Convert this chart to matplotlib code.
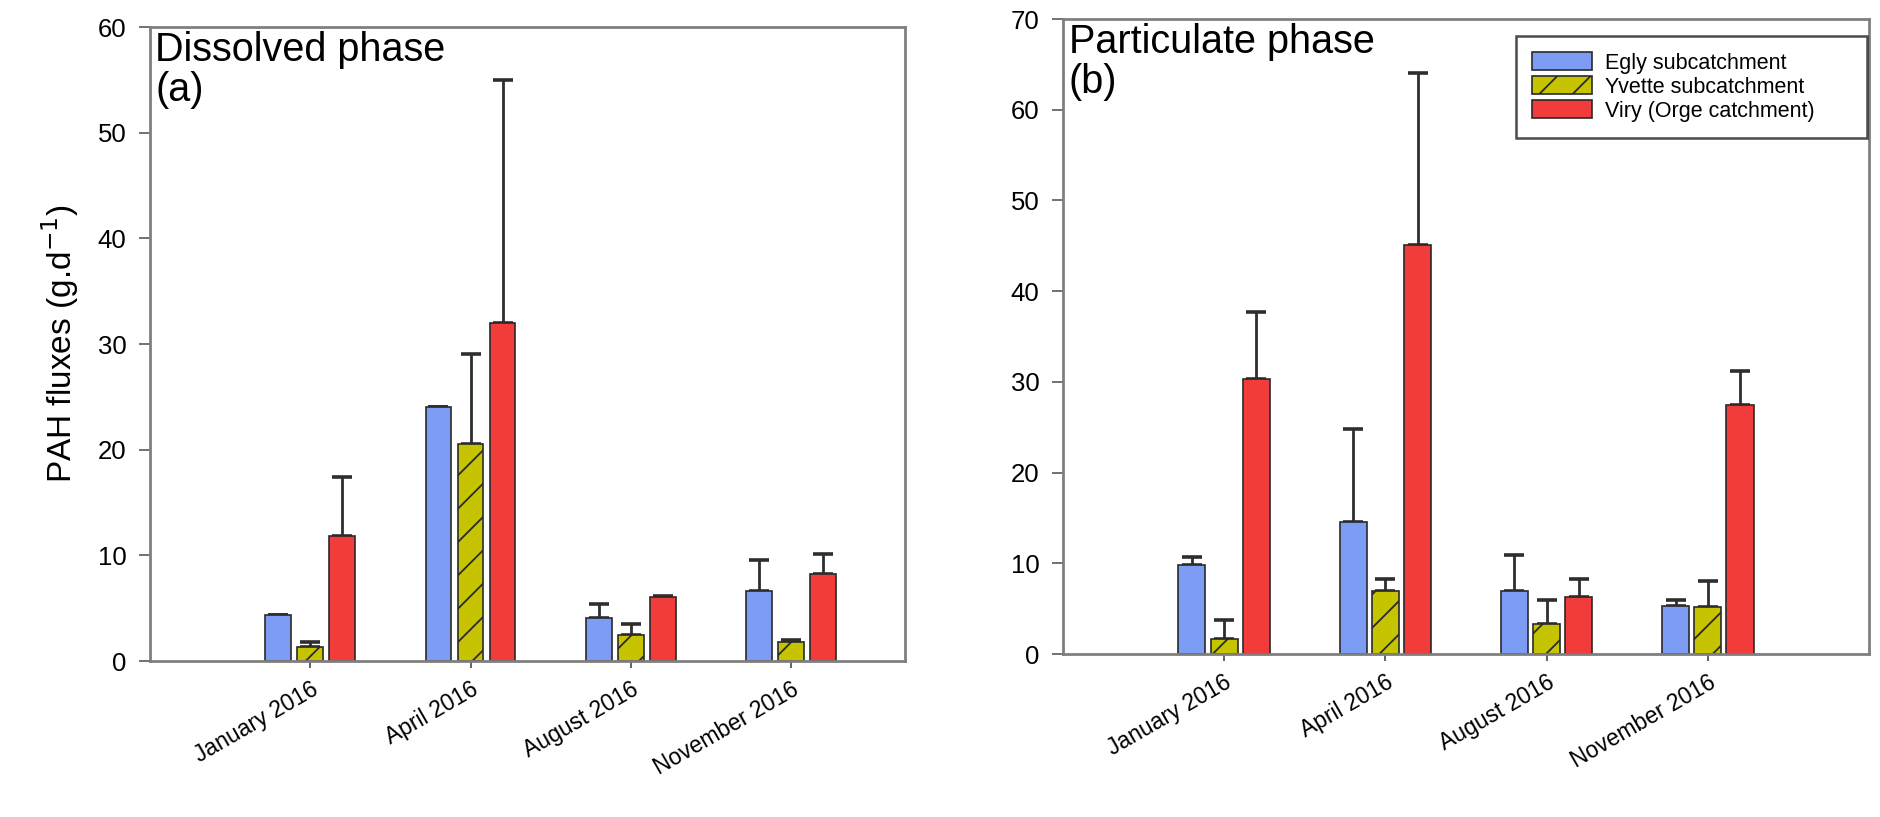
import numpy as np
import matplotlib
matplotlib.use("Agg")
import matplotlib.pyplot as plt

plt.rcParams['font.family'] = ['Liberation Sans', 'DejaVu Sans']
plt.rcParams['hatch.linewidth'] = 1.3

months = ['January 2016', 'April 2016', 'August 2016', 'November 2016']
series = ['Egly subcatchment', 'Yvette subcatchment', 'Viry (Orge catchment)']

# (a) dissolved phase, means and upper error
egly_a = [4.4, 24.0, 4.1, 6.6]
egly_a_err = [0.0, 0.0, 1.3, 3.0]
yvette_a = [1.3, 20.5, 2.5, 1.8]
yvette_a_err = [0.5, 8.6, 1.0, 0.2]
viry_a = [11.8, 32.0, 6.1, 8.2]
viry_a_err = [5.6, 23.0, 0.1, 1.9]

# (b) particulate phase
egly_b = [9.8, 14.5, 7.0, 5.3]
egly_b_err = [0.9, 10.3, 3.9, 0.6]
yvette_b = [1.6, 6.9, 3.3, 5.2]
yvette_b_err = [2.1, 1.4, 2.6, 2.8]
viry_b = [30.3, 45.1, 6.3, 27.5]
viry_b_err = [7.4, 18.9, 2.0, 3.7]

colors = ['#7d9df4', '#c6c400', '#f23b3b']
hatches = [None, '/', None]

fig = plt.figure(figsize=(18.81, 8.17), dpi=100)
ax1 = fig.add_axes([0.0797, 0.1909, 0.4014, 0.7760])
ax2 = fig.add_axes([0.5651, 0.1995, 0.4285, 0.7772])

x = np.arange(len(months))


def draw(ax, vals, errs, ymax, label, width, step, xlim):
    for i, (v, e) in enumerate(zip(vals, errs)):
        pos = x + (i - 1) * step
        ax.bar(pos, v, width, color=colors[i], edgecolor='#2a2a2a',
               linewidth=1.2, hatch=hatches[i], label=series[i], zorder=2)
        ax.errorbar(pos, v, yerr=[np.zeros(len(e)), e], fmt='none',
                    ecolor='#2e2e2e', elinewidth=2.0, capsize=7,
                    capthick=2.6, zorder=1)
    ax.set_xlim(*xlim)
    ax.set_ylim(0, ymax)
    ax.set_yticks(np.arange(0, ymax + 1, 10))
    ax.set_xticks(x)
    ax.set_xticklabels(months, rotation=30, ha='right',
                       rotation_mode='anchor', fontsize=16.5)
    ax.tick_params(axis='y', labelsize=18.5, length=8, width=1.3,
                   color='#666666', pad=9)
    ax.tick_params(axis='x', length=5, width=1.3, color='#555555', pad=7)
    for s in ax.spines.values():
        s.set_color('#7f7f7f')
        s.set_linewidth(2)
    ax.text(0.007, 0.994, label, transform=ax.transAxes, va='top',
            ha='left', fontsize=28.5, linespacing=1.08)


draw(ax1, [egly_a, yvette_a, viry_a], [egly_a_err, yvette_a_err, viry_a_err],
     60, 'Dissolved phase\n(a)', 0.16, 0.2, (-1.0, 3.71))
draw(ax2, [egly_b, yvette_b, viry_b], [egly_b_err, yvette_b_err, viry_b_err],
     70, 'Particulate phase\n(b)', 0.168, 0.2, (-1.0, 4.0))

ax1.set_ylabel('PAH fluxes (g.d$^{-1}$)', fontsize=24, labelpad=12)

leg = ax2.legend(loc='upper left', fontsize=15.5, frameon=True,
                 fancybox=False, edgecolor='#1e1e1e', handlelength=2.8,
                 handleheight=0.9, handletextpad=0.6, labelspacing=0.12,
                 borderpad=0.75, borderaxespad=0, mode='expand',
                 bbox_to_anchor=(0.562, 0.0, 0.4355, 0.973))
leg.get_frame().set_linewidth(1.8)

fig.savefig('out.png', dpi=100)
